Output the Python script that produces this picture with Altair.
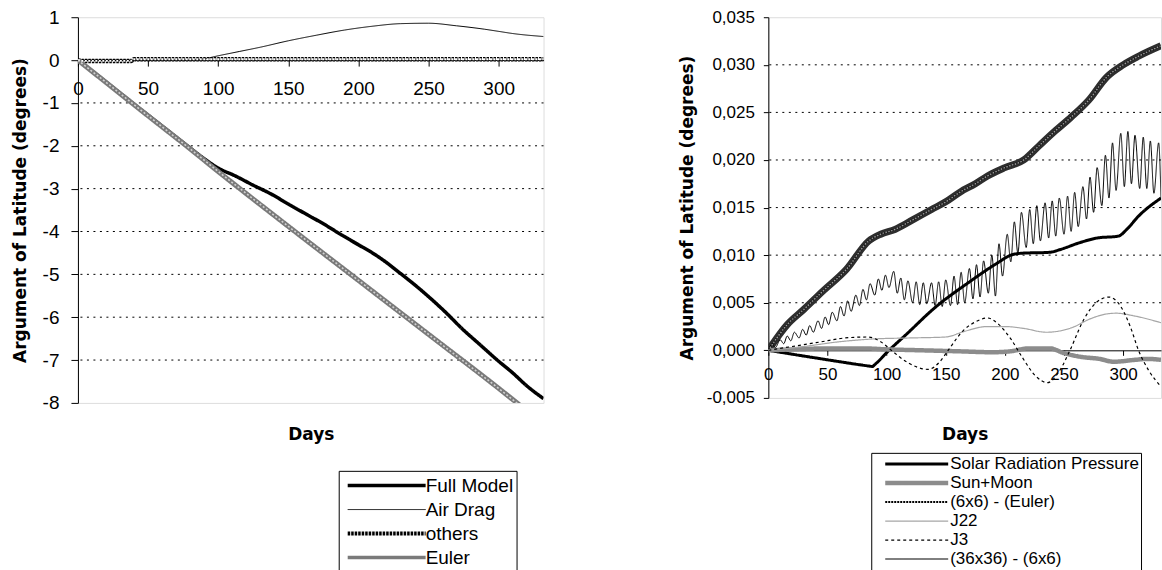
import altair as alt
import pandas as pd

FONT = "Liberation Sans"
TFONT = "DejaVu Sans"

# ---------------- Left panel data ----------------
L_SERIES = ["Full Model", "Air Drag", "others", "Euler"]
L_WIDTH = [3.5, 1, 4.5, 5]

full_days = [0, 20, 40, 60, 78, 90, 100, 112, 125, 138, 150, 163, 175, 188, 200,
             210, 219, 230, 240, 250, 262, 274, 287, 299, 310, 320, 332]
full_vals = [0, -0.51, -1.03, -1.54, -2.0, -2.3, -2.52, -2.7, -2.92, -3.13, -3.36,
             -3.6, -3.82, -4.08, -4.31, -4.5, -4.7, -4.98, -5.24, -5.52, -5.88,
             -6.27, -6.65, -7.0, -7.3, -7.6, -7.9]

air_days = [0, 40, 80, 90, 100, 115, 130, 150, 170, 190, 210, 230, 250, 270, 290, 300, 310, 332]
air_vals = [0, 0, 0, 0.03, 0.1, 0.2, 0.3, 0.45, 0.58, 0.7, 0.79, 0.85, 0.86, 0.8, 0.72,
            0.67, 0.62, 0.55]

oth_days = [0, 3, 38, 40, 332]
oth_vals = [0, -0.02, -0.02, 0.02, 0.02]

eul_days = [0, 50, 78, 100, 150, 200, 250, 300, 332]
eul_vals = [0, -1.3, -2.02, -2.6, -3.88, -5.14, -6.4, -7.66, -8.5]

L_YTICKS = [1, 0, -1, -2, -3, -4, -5, -6, -7, -8]
L_GRID = [-1, -2, -3, -4, -5, -6, -7]
X_TICKS = [0, 50, 100, 150, 200, 250, 300]

# ---------------- Right panel data ----------------
R_SERIES = ["Solar Radiation Pressure", "Sun+Moon", "(6x6) - (Euler)", "J22", "J3",
            "(36x36) - (6x6)"]
R_WIDTH = [3, 4.5, 2, 1.2, 1.2, 1]

srp_days = [0, 40, 85, 88, 90, 102, 116, 141, 169, 194, 205, 214, 238, 247, 263, 278,
            296, 303, 313, 332]
srp_vals = [0, -0.0008, -0.00165, -0.0017, -0.0015, 0, 0.0016, 0.0045, 0.0071, 0.0092,
            0.0100, 0.0102, 0.0103, 0.0106, 0.0113, 0.0118, 0.0120, 0.0127, 0.0141, 0.0160]

sm_days = [0, 20, 50, 80, 100, 130, 160, 190, 205, 220, 238, 250, 265, 280, 292, 310, 320, 332]
sm_vals = [0, 0.0001, 0.0002, 0.0002, 0.0001, 0.0000, -0.0001, -0.0002, -0.0001,
           0.0002, 0.0002, -0.0003, -0.0007, -0.0009, -0.0012, -0.0010, -0.0009, -0.0010]

e6_days = [0, 16, 30, 46, 66, 85, 95, 107, 122, 138, 150, 163, 175, 185, 200, 216,
           229, 243, 256, 271, 286, 300, 313, 332]
e6_vals = [0, 0.0027, 0.0043, 0.0062, 0.0085, 0.0115, 0.0122, 0.0127, 0.0137, 0.0148,
           0.0156, 0.0167, 0.0175, 0.0183, 0.0192, 0.0200, 0.0215, 0.0231, 0.0245,
           0.0263, 0.0287, 0.0300, 0.0309, 0.0320]

j22_days = [0, 30, 60, 90, 120, 150, 166, 185, 200, 216, 235, 257, 272, 285, 294, 310, 332]
j22_vals = [0, 0.0004, 0.0009, 0.0012, 0.0013, 0.0014, 0.0020, 0.0025, 0.0025, 0.0023,
            0.0019, 0.0024, 0.0033, 0.0038, 0.0039, 0.0036, 0.0029]

j3_days = [0, 20, 45, 65, 84, 95, 104, 118, 135, 145, 152, 165, 177, 185, 195, 205,
           215, 226, 236, 246, 255, 267, 278, 288, 298, 306, 313, 322, 332]
j3_vals = [0, 0.0004, 0.0009, 0.0013, 0.0014, 0.0009, 0.0, -0.0013, -0.0020, -0.0012,
           0.0, 0.0021, 0.0031, 0.0034, 0.0027, 0.0012, -0.0008, -0.0027, -0.0034,
           -0.0022, 0.0, 0.0033, 0.0051, 0.0056, 0.0046, 0.0025, 0.0, -0.0022, -0.0038]

osc_days = [0, 3, 6, 10, 13, 16, 19, 22, 26, 29, 32, 35, 38, 42, 45, 48, 51, 54, 58,
            61, 64, 67, 70, 74, 77, 80, 83, 86, 90, 93, 96, 99, 102, 106, 109, 112,
            115, 118, 122, 125, 128, 131, 134, 138, 141, 144, 147, 150, 154, 157, 160,
            163, 166, 170, 173, 176, 179, 182, 186, 189, 192, 195, 198, 202, 205, 208,
            211, 214, 218, 221, 224, 227, 230, 234, 237, 240, 243, 246, 250, 253, 256,
            259, 262, 266, 269, 272, 275, 278, 282, 285, 288, 291, 294, 298, 301, 304,
            307, 310, 314, 317, 320, 323, 326, 330, 332]
osc_vals = [0.0000, 0.0006, 0.0003, 0.0011, 0.0007, 0.0015, 0.0010, 0.0019, 0.0013,
            0.0022, 0.0016, 0.0026, 0.0019, 0.0031, 0.0023, 0.0035, 0.0027, 0.0040,
            0.0031, 0.0046, 0.0036, 0.0052, 0.0041, 0.0058, 0.0047, 0.0064, 0.0053,
            0.0070, 0.0058, 0.0075, 0.0063, 0.0079, 0.0066, 0.0083, 0.0060, 0.0076,
            0.0053, 0.0073, 0.0050, 0.0072, 0.0048, 0.0071, 0.0049, 0.0071, 0.0047,
            0.0072, 0.0046, 0.0074, 0.0047, 0.0078, 0.0048, 0.0082, 0.0050, 0.0086,
            0.0054, 0.0090, 0.0056, 0.0094, 0.0060, 0.0100, 0.0057, 0.0112, 0.0078,
            0.0122, 0.0093, 0.0135, 0.0102, 0.0145, 0.0108, 0.0148, 0.0112, 0.0152,
            0.0115, 0.0155, 0.0118, 0.0157, 0.0120, 0.0160, 0.0122, 0.0162, 0.0125,
            0.0166, 0.0130, 0.0172, 0.0138, 0.0182, 0.0145, 0.0192, 0.0152, 0.0205,
            0.0160, 0.0218, 0.0168, 0.0228, 0.0172, 0.0230, 0.0175, 0.0226, 0.0170,
            0.0224, 0.0170, 0.0220, 0.0165, 0.0218, 0.0160]

R_YTICKS = [-0.005, 0.0, 0.005, 0.010, 0.015, 0.020, 0.025, 0.030, 0.035]
R_GRID = [0.005, 0.010, 0.015, 0.020, 0.025, 0.030]


def sdf(name, days, vals, width=1.0):
    return pd.DataFrame({"day": days, "value": vals, "series": name, "sw": width})


def width_expr(names, widths):
    expr = str(widths[-1])
    for n, w in reversed(list(zip(names[:-1], widths[:-1]))):
        expr = f"datum.value === '{n}' ? {w} : ({expr})"
    return expr


NBSP = "\u00a0"

# ---------------- Left panel ----------------
W1, H1 = 466, 386
left_df = pd.concat([
    sdf("Full Model", full_days, full_vals, L_WIDTH[0]),
    sdf("Air Drag", air_days, air_vals, L_WIDTH[1]),
    sdf("others", oth_days, oth_vals, L_WIDTH[2]),
    sdf("Euler", eul_days, eul_vals, L_WIDTH[3]),
])

lx = alt.Scale(domain=[0, 332], nice=False, zero=False)
ly = alt.Scale(domain=[-8, 1], nice=False)

l_legend = alt.Legend(
    title=None, orient="none", legendX=261, legendY=454,
    strokeColor="black", fillColor="white", padding=3,
    symbolType="stroke", symbolSize=78 * 78, symbolOffset=35.5,
    symbolStrokeWidth=alt.ExprRef(width_expr(L_SERIES, [3.5, 1, 4, 3.5])),
    labelFont=FONT, labelFontSize=19, labelColor="black", labelOffset=29.5,
    labelExpr="datum.label + '" + NBSP * 4 + "'",
    clipHeight=23.5, rowPadding=0, labelLimit=400,
)

l_xaxis = alt.Axis(
    values=X_TICKS, offset=-H1 * 8 / 9, domainColor="black", tickColor="black",
    tickSize=6, labelFont=FONT, labelFontSize=19, labelColor="black", labelPadding=13,
    labelFlush=False, grid=False, title="Days", titleFont=TFONT, titleFontSize=17,
    titleFontWeight="bold", titleColor="black", titleY=418 - H1 / 9,
    titleBaseline="middle",
)
l_yaxis = alt.Axis(
    values=L_YTICKS, domainColor="black", tickColor="black", tickSize=7,
    labelFont=FONT, labelFontSize=19, labelColor="black", labelPadding=12,
    labelExpr="datum.value < 0 ? '-' + format(-datum.value, 'd') : format(datum.value, 'd')",
    grid=False, title="Argument of Latitude (degrees)", titleFont=TFONT,
    titleFontSize=17, titleFontWeight="bold", titleColor="black",
    titleX=-57, titleY=H1 / 2, titleAngle=270, titleBaseline="middle",
)

l_grid = alt.Chart(pd.DataFrame({"v": L_GRID})).mark_rule(
    color="black", strokeWidth=1, strokeDash=[2, 4.5]
).encode(y=alt.Y("v:Q", scale=ly, axis=l_yaxis))

l_main = alt.Chart(left_df).mark_line(clip=True, interpolate="monotone", strokeCap="butt").encode(
    x=alt.X("day:Q", scale=lx, axis=l_xaxis),
    y=alt.Y("value:Q", scale=ly, axis=l_yaxis),
    color=alt.Color("series:N", scale=alt.Scale(domain=L_SERIES,
                    range=["black", "black", "black", "#7a7a7a"]), legend=l_legend),
    strokeDash=alt.StrokeDash("series:N", scale=alt.Scale(domain=L_SERIES,
                              range=[[1, 0], [1, 0], [2.5, 1], [1, 0]]), legend=l_legend),
    strokeWidth=alt.StrokeWidth("sw:Q", scale=None, legend=None),
    detail="series:N",
)

l_oth_over = alt.Chart(sdf("others", oth_days, oth_vals)).mark_line(
    clip=True, color="white", strokeWidth=1.8, strokeDash=[2, 1.5]
).encode(x=alt.X("day:Q", scale=lx), y=alt.Y("value:Q", scale=ly))

l_eul_over = alt.Chart(sdf("Euler", eul_days, eul_vals)).mark_line(
    clip=True, color="#d0d0d0", strokeWidth=1.6, strokeDash=[2, 2]
).encode(x=alt.X("day:Q", scale=lx), y=alt.Y("value:Q", scale=ly))

left = alt.layer(l_grid, l_main, l_oth_over, l_eul_over).properties(width=W1, height=H1)

# ---------------- Right panel ----------------
W2, H2 = 393, 381
right_df = pd.concat([
    sdf("Solar Radiation Pressure", srp_days, srp_vals, R_WIDTH[0]),
    sdf("Sun+Moon", sm_days, sm_vals, R_WIDTH[1]),
    sdf("(6x6) - (Euler)", e6_days, e6_vals, R_WIDTH[2]),
    sdf("J22", j22_days, j22_vals, R_WIDTH[3]),
    sdf("J3", j3_days, j3_vals, R_WIDTH[4]),
    sdf("(36x36) - (6x6)", osc_days, osc_vals, R_WIDTH[5]),
])

rx = alt.Scale(domain=[0, 332], nice=False, zero=False)
ry = alt.Scale(domain=[-0.005, 0.035], nice=False)

r_legend = alt.Legend(
    title=None, orient="none", legendX=103, legendY=436,
    strokeColor="black", fillColor="white", padding=2,
    symbolType="stroke", symbolSize=63 * 63, symbolOffset=35,
    symbolStrokeWidth=alt.ExprRef(width_expr(R_SERIES, [3, 4.5, 2, 1.2, 1.2, 1.2])),
    labelFont=FONT, labelFontSize=17, labelColor="black", labelOffset=25,
    clipHeight=18.5, rowPadding=0, labelLimit=400,
)

r_xaxis = alt.Axis(
    values=X_TICKS, offset=-H2 / 8, domainColor="black", tickColor="black",
    tickSize=5, labelFont=FONT, labelFontSize=17, labelColor="black", labelPadding=11,
    labelFlush=False, grid=False, title="Days", titleFont=TFONT, titleFontSize=17,
    titleFontWeight="bold", titleColor="black", titleY=418 - H2 * 7 / 8,
    titleBaseline="middle",
)
r_yaxis = alt.Axis(
    values=R_YTICKS, domainColor="black", tickColor="black", tickSize=5,
    labelFont=FONT, labelFontSize=17, labelColor="black", labelPadding=9,
    labelExpr="datum.value < -0.0000001 ? '-' + replace(format(-datum.value, '.3f'), '.', ',') : replace(format(abs(datum.value), '.3f'), '.', ',')",
    grid=False, title="Argument of Latitude (degrees)", titleFont=TFONT,
    titleFontSize=17, titleFontWeight="bold", titleColor="black",
    titleX=-81, titleY=H2 / 2, titleAngle=270, titleBaseline="middle",
)

r_grid = alt.Chart(pd.DataFrame({"v": R_GRID})).mark_rule(
    color="black", strokeWidth=1, strokeDash=[2, 4.5]
).encode(y=alt.Y("v:Q", scale=ry, axis=r_yaxis))

r_band = alt.Chart(sdf("(6x6) - (Euler)", e6_days, e6_vals)).mark_line(
    clip=True, interpolate="monotone", color="#2e2e2e", strokeWidth=7
).encode(x=alt.X("day:Q", scale=rx, axis=r_xaxis), y=alt.Y("value:Q", scale=ry, axis=r_yaxis))

r_main = alt.Chart(right_df).mark_line(clip=True, interpolate="monotone", strokeCap="butt").encode(
    x=alt.X("day:Q", scale=rx, axis=r_xaxis),
    y=alt.Y("value:Q", scale=ry, axis=r_yaxis),
    color=alt.Color("series:N", scale=alt.Scale(domain=R_SERIES,
                    range=["black", "#8c8c8c", "black", "#a6a6a6", "black", "black"]),
                    legend=r_legend),
    strokeDash=alt.StrokeDash("series:N", scale=alt.Scale(domain=R_SERIES,
                              range=[[1, 0], [1, 0], [2, 1], [1, 0], [3, 3], [1, 0]]),
                              legend=r_legend),
    strokeWidth=alt.StrokeWidth("sw:Q", scale=None, legend=None),
    detail="series:N",
)

r_band_over = alt.Chart(sdf("(6x6) - (Euler)", e6_days, e6_vals)).mark_line(
    clip=True, interpolate="monotone", color="#9a9a9a", strokeWidth=1.5, strokeDash=[1.5, 1.5]
).encode(x=alt.X("day:Q", scale=rx), y=alt.Y("value:Q", scale=ry))

right = alt.layer(r_grid, r_band, r_main, r_band_over).properties(width=W2, height=H2)

chart = alt.hconcat(left, right, spacing=225, bounds="flush").resolve_scale(
    color="independent", strokeDash="independent",
    x="independent", y="independent",
).resolve_legend(
    color="independent", strokeDash="independent",
).properties(
    padding={"left": 11, "top": 7, "right": 0, "bottom": 0},
).configure_view(stroke="#a0a0a0", strokeWidth=1).configure(background="white")

chart.save("out.html", embed_options={"renderer": "svg", "actions": False})
